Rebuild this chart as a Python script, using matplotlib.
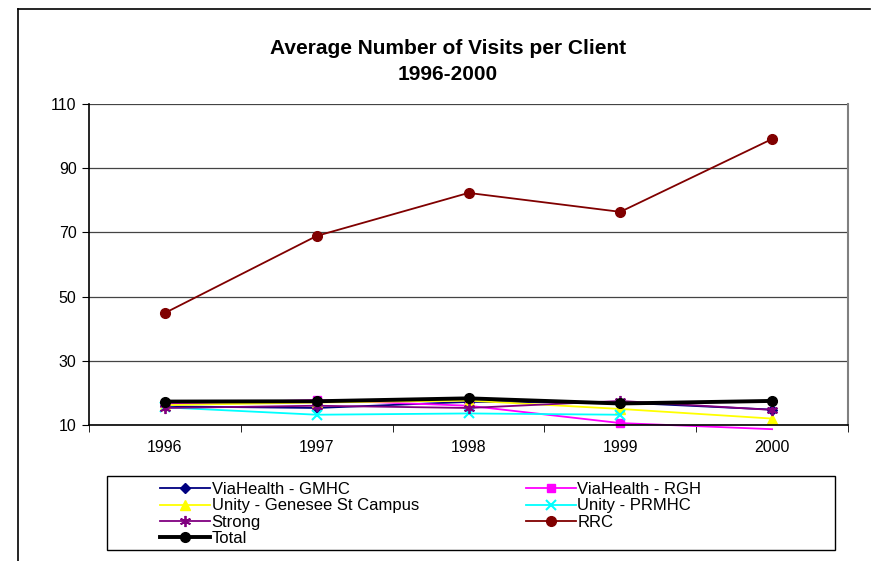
import numpy as np
import matplotlib.pyplot as plt
from matplotlib.lines import Line2D
from matplotlib.patches import Rectangle

plt.rcParams['font.family'] = ['Liberation Sans', 'DejaVu Sans']

years = ['1996', '1997', '1998', '1999', '2000']

gmhc = [15.8, 15.3, 17.2, 17.0, 14.8]
rgh = [16.5, 17.8, 16.0, 10.6, 8.7]
genesee = [16.2, 17.0, 17.6, 15.0, 12.0]
prmhc = [15.5, 13.2, 13.6, 13.2, np.nan]
strong = [15.3, 16.0, 15.3, 17.5, 14.7]
rrc = [44.9, 68.9, 82.3, 76.4, 99.1]
total = [17.3, 17.4, 18.3, 16.7, 17.5]

yticks = [10, 30, 50, 70, 90, 110]

fig = plt.figure(figsize=(8.73, 5.61), dpi=100)
ax = fig.add_axes([89 / 873, 1 - 425 / 561, (848 - 89) / 873, (425 - 104) / 561])

x = np.arange(len(years))

h_gmhc, = ax.plot(x, gmhc, color='#000080', marker='D', ms=5, lw=1.3, label='ViaHealth - GMHC')
h_rgh, = ax.plot(x, rgh, color='#ff00ff', marker='s', ms=6, lw=1.3, label='ViaHealth - RGH',
                 clip_on=False, markevery=[0, 1, 2, 3])
h_gen, = ax.plot(x, genesee, color='#ffff00', marker='^', ms=7, lw=1.3, label='Unity - Genesee St Campus')
h_prm, = ax.plot(x, prmhc, color='#00ffff', marker='x', ms=7, mew=1.5, lw=1.3, label='Unity - PRMHC')
h_str, = ax.plot(x, strong, color='#800080', marker=(6, 2, 0), ms=8, mew=1.3, lw=1.3, label='Strong')
h_rrc, = ax.plot(x, rrc, color='#800000', marker='o', ms=7, lw=1.3, label='RRC')
h_tot, = ax.plot(x, total, color='black', marker='o', ms=7, lw=2.8, label='Total')

ax.set_xlim(-0.5, len(years) - 0.5)
ax.set_ylim(10, 110)
ax.set_yticks(yticks)
ax.set_xticks(x)
ax.set_xticklabels(years, fontsize=11.5)
ax.set_xticks(np.arange(-0.5, len(years), 1), minor=True)
ax.tick_params(axis='x', which='major', length=0, pad=11)
ax.tick_params(axis='x', which='minor', length=5, direction='out', color='black')
ax.tick_params(axis='y', length=5, direction='out', labelsize=11.5, pad=4)
ax.yaxis.grid(True, color='#444444', lw=0.9)
ax.set_axisbelow(True)
ax.spines['top'].set_visible(False)
ax.spines['right'].set_color('#808080')
ax.spines['right'].set_linewidth(1.5)
ax.spines['left'].set_linewidth(1.2)
ax.spines['bottom'].set_linewidth(1.2)

fig.text(448 / 873, 1 - 48 / 561, 'Average Number of Visits per Client', ha='center', va='center',
         fontsize=15, fontweight='bold')
fig.text(448 / 873, 1 - 75 / 561, '1996-2000', ha='center', va='center',
         fontsize=15, fontweight='bold')

# outer chart frame
fig.add_artist(Line2D([18 / 873, 18 / 873], [0, 1 - 9 / 561], color='black', lw=1.2))
fig.add_artist(Line2D([18 / 873, 870 / 873], [1 - 9 / 561, 1 - 9 / 561], color='black', lw=1.2))

# legend box
fig.add_artist(Rectangle((107 / 873, 1 - 550 / 561), (835 - 107) / 873, (550 - 476) / 561,
                         transform=fig.transFigure, fill=False, edgecolor='black', lw=1.0))
handles = [h_gmhc, h_gen, h_str, h_tot, h_rgh, h_prm, h_rrc]
fig.legend(handles=handles, labels=[h.get_label() for h in handles], ncol=2,
           loc='upper left', bbox_to_anchor=(160 / 873, 1 - 482 / 561), frameon=False,
           fontsize=12, handlelength=3.0, handletextpad=0.1, labelspacing=0.08,
           columnspacing=6.4, borderpad=0, borderaxespad=0)

fig.savefig('out.png', dpi=100)
